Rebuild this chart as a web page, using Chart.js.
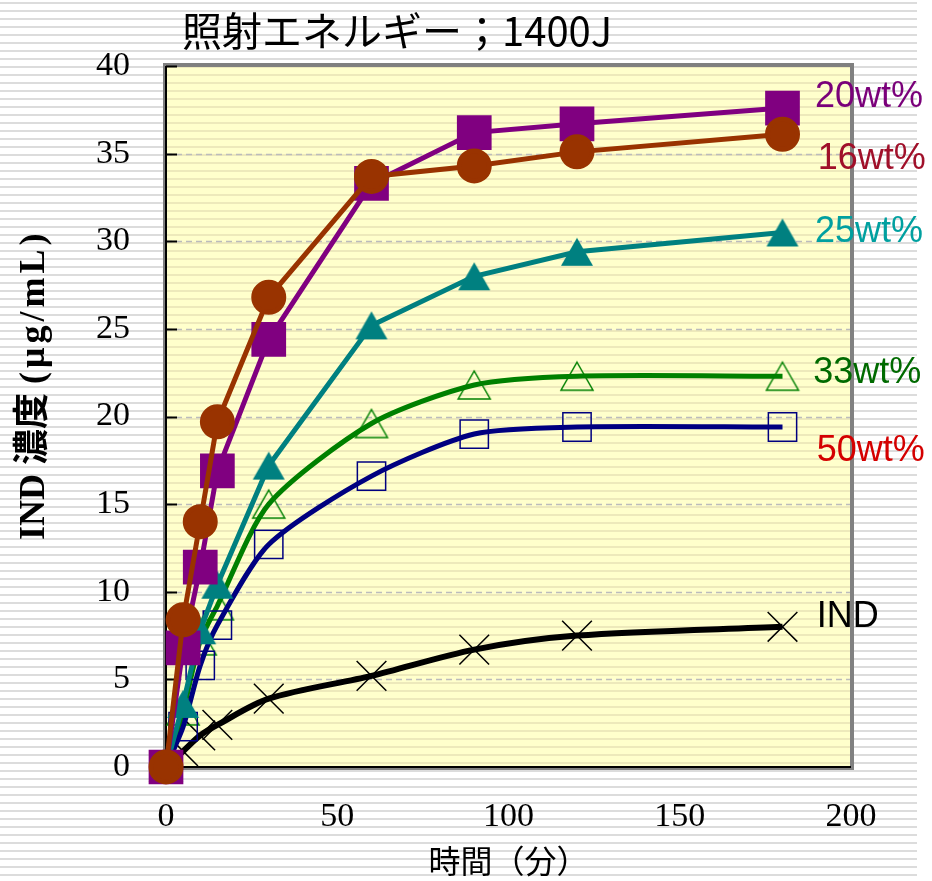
<!DOCTYPE html>
<html>
<head>
<meta charset="utf-8">
<script src="https://cdn.jsdelivr.net/npm/chart.js@4/dist/chart.umd.min.js"></script>
<style>
  html, body { margin: 0; padding: 0; background: #ffffff; }
  #wrap { width: 932px; height: 881px; }
</style>
</head>
<body>
<div id="wrap"><canvas id="c" width="932" height="881"></canvas></div>
<script>
// Elapsed irradiation time (minutes)
const times = [0, 5, 10, 15, 30, 60, 90, 120, 180];

// IND concentration (µg/mL) per formulation
const wt16 = [0, 8.4, 14.0, 19.7, 26.8, 33.7, 34.3, 35.1, 36.1];
const wt20 = [0, 6.8, 11.4, 16.9, 24.4, 33.3, 36.2, 36.7, 37.6];
const wt25 = [0, 3.6, 7.8, 10.4, 17.2, 25.2, 28.0, 29.4, 30.5];
const wt50 = [0, 2.3, 5.8, 8.1, 12.7, 16.6, 19.0, 19.4, 19.4];
const wt33 = [0, 3.2, 7.2, 9.2, 15.0, 19.6, 21.8, 22.3, 22.3];
const indOnly = [0, 0.9, 1.8, 2.4, 3.9, 5.2, 6.7, 7.5, 8.0];

// Series names shown at the right end of each curve
const seriesNames = ['20wt%', '16wt%', '25wt%', '33wt%', '50wt%', 'IND'];

const chartTitle = '照射エネルギー；1400J';
const xTitle = '時間（分）';
const yTitleMain = 'IND 濃度 ';
const yTitleUnit = '(μg/mL)';

const xTicks = [0, 50, 100, 150, 200];
const yTicks = [0, 5, 10, 15, 20, 25, 30, 35, 40];

const pts = arr => arr.map((v, i) => ({ x: times[i], y: v }));

// triangle marker centred on its bounding box
function triangleMarker(w, h, color, filled) {
  const cv = document.createElement('canvas');
  cv.width = w + 4; cv.height = h + 4;
  const g = cv.getContext('2d');
  g.beginPath();
  g.moveTo(cv.width / 2, 2);
  g.lineTo(cv.width - 2, cv.height - 2);
  g.lineTo(2, cv.height - 2);
  g.closePath();
  if (filled) { g.fillStyle = color; g.fill(); }
  else { g.strokeStyle = color; g.lineWidth = 1.5; g.stroke(); }
  return cv;
}
const solidTri = triangleMarker(32, 28, '#008080', true);
const openTri = triangleMarker(32, 28, '#008000', false);

// striped slide background + yellow plot panel with frame
const backdrop = {
  id: 'backdrop',
  beforeDraw(chart) {
    const { ctx, chartArea: a } = chart;
    ctx.save();
    ctx.fillStyle = '#ffffff';
    ctx.fillRect(0, 0, chart.width, chart.height);
    ctx.fillStyle = '#dcdcdc';
    for (let y = 2; y < chart.height; y += 8) ctx.fillRect(0, y, 917, 2);
    ctx.fillStyle = '#ffffcc';
    ctx.fillRect(a.left, a.top, a.right - a.left, a.bottom - a.top);
    ctx.fillStyle = '#ede9bb';
    for (let y = 2; y < chart.height; y += 8) {
      if (y + 2 > a.top && y < a.bottom) ctx.fillRect(a.left, y, a.right - a.left, 2);
    }
    // dashed grid
    const ys = chart.scales.y;
    ctx.strokeStyle = '#bcbcbc';
    ctx.lineWidth = 1.5;
    ctx.setLineDash([6, 4]);
    yTicks.slice(1, -1).forEach(v => {
      const py = Math.round(ys.getPixelForValue(v)) + 0.5;
      ctx.beginPath();
      ctx.moveTo(a.left, py);
      ctx.lineTo(a.right, py);
      ctx.stroke();
    });
    ctx.restore();
  },
  beforeDatasetsDraw(chart) {
    const { ctx, chartArea: a } = chart;
    const ys = chart.scales.y;
    ctx.save();
    ctx.strokeStyle = '#808080';
    ctx.lineWidth = 4;
    ctx.strokeRect(a.left - 1, a.top - 1, a.right - a.left + 2, a.bottom - a.top + 2);
    ctx.strokeStyle = '#000000';
    ctx.lineWidth = 2;
    ctx.beginPath();
    ctx.moveTo(a.left, a.top);
    ctx.lineTo(a.left, a.bottom);
    ctx.lineTo(a.right, a.bottom);
    ctx.stroke();
    // inward tick marks on the value axis
    yTicks.forEach(v => {
      const py = Math.round(ys.getPixelForValue(v)) + 0.5;
      ctx.beginPath();
      ctx.moveTo(a.left, py);
      ctx.lineTo(a.left + 11, py);
      ctx.stroke();
    });
    ctx.restore();
  },
  afterDraw(chart) {
    const { ctx } = chart;
    const xs = chart.scales.x, ys = chart.scales.y;
    ctx.save();
    // heading
    ctx.fillStyle = '#000000';
    ctx.font = '40px "Noto Sans CJK JP", sans-serif';
    ctx.textBaseline = 'middle';
    ctx.textAlign = 'left';
    ctx.fillText(chartTitle, 182, 31);
    // value axis title, read bottom to top
    ctx.save();
    ctx.translate(35, 540);
    ctx.rotate(-Math.PI / 2);
    ctx.font = 'bold 36px "Liberation Serif", "Noto Sans CJK JP", serif';
    ctx.fillText(yTitleMain, 0, 0);
    const w = ctx.measureText(yTitleMain).width;
    ctx.letterSpacing = '4px';
    ctx.fillText(yTitleUnit, w, 0);
    ctx.restore();
    // series labels
    const labelSpots = [
      { v: 38.2, t: 189.5, c: '#7a007a' },
      { v: 34.7, t: 190.3, c: '#a0102a' },
      { v: 30.5, t: 189.5, c: '#00a0a0' },
      { v: 22.5, t: 189.0, c: '#006a00' },
      { v: 18.0, t: 190.0, c: '#d40000' },
      { v: 8.56, t: 190.0, c: '#000000' }
    ];
    ctx.font = '36px "Liberation Sans", Arial, sans-serif';
    seriesNames.forEach((name, i) => {
      const s = labelSpots[i];
      ctx.fillStyle = s.c;
      ctx.fillText(name, xs.getPixelForValue(s.t), ys.getPixelForValue(s.v));
    });
    ctx.restore();
  }
};

new Chart(document.getElementById('c'), {
  type: 'line',
  data: {
    datasets: [
      { label: '16wt%', data: pts(wt16), borderColor: '#993300', backgroundColor: '#993300',
        borderWidth: 5, pointStyle: 'circle', pointRadius: 15, tension: 0 },
      { label: '20wt%', data: pts(wt20), borderColor: '#800080', backgroundColor: '#800080',
        borderWidth: 5, pointStyle: 'rect', pointRadius: 21, tension: 0 },
      { label: '25wt%', data: pts(wt25), borderColor: '#008080', backgroundColor: '#008080',
        borderWidth: 5, pointStyle: solidTri, tension: 0 },
      { label: '50wt%', data: pts(wt50), borderColor: '#000080', backgroundColor: 'rgba(0,0,0,0)',
        borderWidth: 5, pointBorderWidth: 1.5, pointStyle: 'rect', pointRadius: 20, tension: 0.25 },
      { label: '33wt%', data: pts(wt33), borderColor: '#008000', backgroundColor: 'rgba(0,0,0,0)',
        borderWidth: 5, pointStyle: openTri, tension: 0.25 },
      { label: 'IND', data: pts(indOnly), borderColor: '#000000', backgroundColor: '#000000',
        borderWidth: 6, pointBorderWidth: 1.5, pointStyle: 'crossRot', pointRadius: 21, tension: 0.3 }
    ]
  },
  options: {
    responsive: false,
    animation: false,
    devicePixelRatio: 1,
    clip: false,
    layout: { padding: { left: 0, right: 81, top: 66, bottom: 0 } },
    plugins: { legend: { display: false }, tooltip: { enabled: false }, title: { display: false } },
    elements: { point: { hoverRadius: 0 } },
    scales: {
      x: {
        type: 'linear', min: 0, max: 200,
        afterBuildTicks: s => { s.ticks = xTicks.map(v => ({ value: v })); },
        afterFit: s => { s.height = 114; },
        grid: { display: false, drawTicks: false },
        border: { display: false },
        ticks: { color: '#000000', padding: 30, font: { family: '"Liberation Serif", serif', size: 34 } },
        title: { display: true, text: xTitle, color: '#000000', padding: { top: 0, bottom: 0 },
          font: { family: '"Liberation Serif", "Noto Sans CJK JP", serif', size: 32, lineHeight: 1.0 } }
      },
      y: {
        type: 'linear', min: 0, max: 40,
        afterBuildTicks: s => { s.ticks = yTicks.map(v => ({ value: v })); },
        afterFit: s => { s.width = 166; },
        grid: { display: false, drawTicks: false },
        border: { display: false },
        ticks: { color: '#000000', padding: 36, font: { family: '"Liberation Serif", serif', size: 34 } }
      }
    }
  },
  plugins: [backdrop]
});
</script>
</body>
</html>
